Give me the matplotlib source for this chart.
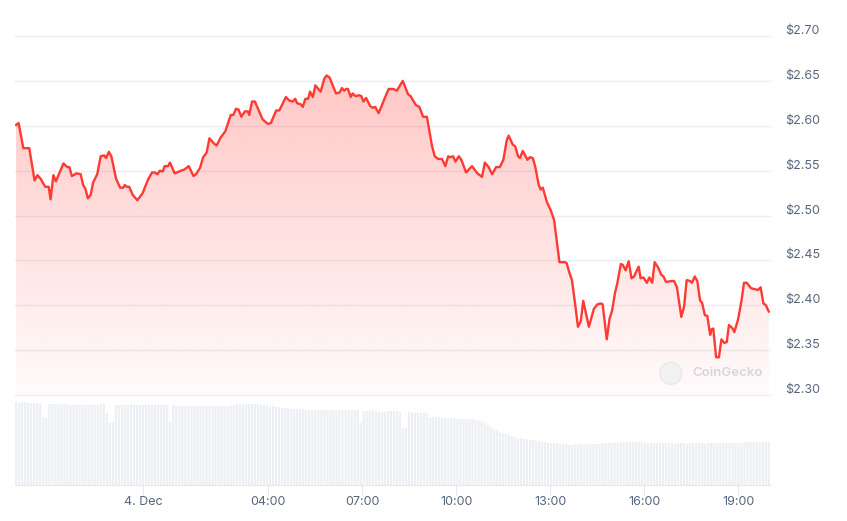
import numpy as np
import matplotlib.pyplot as plt
from matplotlib import transforms
from matplotlib.patches import Circle

# price series: hours relative to 4 Dec 00:00, price in USD
hours = [
    -4.05, -3.97, -3.82, -3.63, -3.46, -3.37, -3.27, -3.12, -3.01, -2.95,
    -2.86, -2.78, -2.54, -2.42, -2.35, -2.27, -2.12, -1.99, -1.91, -1.84,
    -1.76, -1.67, -1.59, -1.46, -1.35, -1.24, -1.18, -1.09, -1.01, -0.86,
    -0.73, -0.63, -0.58, -0.52, -0.44, -0.33, -0.18, -0.01, 0.16, 0.29,
    0.37, 0.46, 0.54, 0.63, 0.69, 0.80, 0.86, 1.01, 1.22, 1.31,
    1.46, 1.61, 1.69, 1.82, 1.92, 2.03, 2.12, 2.27, 2.35, 2.48,
    2.63, 2.80, 2.88, 2.97, 3.05, 3.14, 3.25, 3.35, 3.39, 3.48,
    3.57, 3.82, 3.99, 4.08, 4.25, 4.35, 4.56, 4.67, 4.78, 4.86,
    4.92, 5.03, 5.10, 5.18, 5.27, 5.33, 5.42, 5.50, 5.67, 5.78,
    5.86, 5.95, 6.16, 6.27, 6.35, 6.42, 6.48, 6.54, 6.63, 6.69,
    6.78, 6.90, 6.97, 7.03, 7.12, 7.25, 7.33, 7.41, 7.52, 7.73,
    7.84, 7.99, 8.10, 8.29, 8.46, 8.54, 8.71, 8.82, 8.94, 9.06,
    9.22, 9.31, 9.42, 9.54, 9.65, 9.74, 9.80, 9.90, 9.97, 10.08,
    10.16, 10.31, 10.50, 10.67, 10.82, 10.91, 11.03, 11.14, 11.27, 11.39,
    11.50, 11.61, 11.67, 11.80, 11.88, 11.97, 12.03, 12.12, 12.27, 12.35,
    12.44, 12.52, 12.63, 12.69, 12.76, 12.89, 13.01, 13.12, 13.20, 13.29,
    13.46, 13.52, 13.61, 13.69, 13.80, 13.88, 13.97, 14.05, 14.23, 14.39,
    14.50, 14.61, 14.67, 14.80, 14.89, 14.97, 15.06, 15.14, 15.25, 15.31,
    15.40, 15.50, 15.59, 15.67, 15.82, 15.88, 15.97, 16.08, 16.16, 16.25,
    16.33, 16.44, 16.54, 16.61, 16.69, 16.88, 16.95, 17.04, 17.18, 17.27,
    17.35, 17.46, 17.52, 17.61, 17.69, 17.78, 17.84, 17.93, 18.01, 18.10,
    18.14, 18.20, 18.29, 18.38, 18.46, 18.55, 18.63, 18.70, 18.82, 18.87,
    18.99, 19.10, 19.18, 19.27, 19.40, 19.52, 19.63, 19.71, 19.80, 19.88, 19.97,
]
price = [
    2.601, 2.603, 2.575, 2.575, 2.539, 2.545, 2.541, 2.532, 2.532, 2.518,
    2.545, 2.538, 2.558, 2.554, 2.554, 2.544, 2.547, 2.546, 2.534, 2.530,
    2.519, 2.523, 2.537, 2.546, 2.566, 2.567, 2.564, 2.571, 2.566, 2.541,
    2.531, 2.531, 2.534, 2.532, 2.532, 2.523, 2.517, 2.525, 2.540, 2.548,
    2.548, 2.546, 2.550, 2.549, 2.555, 2.555, 2.559, 2.547, 2.550, 2.551,
    2.555, 2.544, 2.546, 2.553, 2.565, 2.570, 2.586, 2.580, 2.578, 2.587,
    2.594, 2.612, 2.612, 2.619, 2.618, 2.610, 2.616, 2.616, 2.612, 2.627,
    2.627, 2.607, 2.602, 2.603, 2.617, 2.617, 2.632, 2.628, 2.627, 2.630,
    2.625, 2.624, 2.621, 2.630, 2.630, 2.638, 2.632, 2.645, 2.638, 2.652,
    2.656, 2.654, 2.636, 2.637, 2.642, 2.639, 2.641, 2.641, 2.632, 2.636,
    2.633, 2.634, 2.633, 2.627, 2.631, 2.622, 2.620, 2.621, 2.614, 2.632,
    2.641, 2.641, 2.639, 2.650, 2.635, 2.633, 2.623, 2.621, 2.610, 2.610,
    2.578, 2.566, 2.563, 2.563, 2.555, 2.566, 2.565, 2.566, 2.560, 2.566,
    2.562, 2.548, 2.555, 2.547, 2.543, 2.559, 2.554, 2.546, 2.554, 2.554,
    2.562, 2.584, 2.589, 2.579, 2.577, 2.566, 2.564, 2.572, 2.562, 2.565,
    2.564, 2.554, 2.534, 2.529, 2.531, 2.515, 2.506, 2.495, 2.473, 2.448,
    2.448, 2.447, 2.436, 2.428, 2.399, 2.376, 2.382, 2.405, 2.376, 2.396,
    2.401, 2.402, 2.401, 2.362, 2.385, 2.394, 2.413, 2.425, 2.446, 2.445,
    2.439, 2.449, 2.430, 2.432, 2.443, 2.430, 2.431, 2.425, 2.431, 2.425,
    2.448, 2.442, 2.434, 2.432, 2.426, 2.427, 2.427, 2.420, 2.387, 2.399,
    2.428, 2.427, 2.425, 2.432, 2.427, 2.405, 2.403, 2.389, 2.388, 2.367,
    2.373, 2.374, 2.342, 2.342, 2.362, 2.358, 2.359, 2.378, 2.374, 2.370,
    2.384, 2.405, 2.425, 2.425, 2.419, 2.418, 2.417, 2.420, 2.402, 2.400, 2.393,
]

# volume bars (relative units), evenly spaced over the same period
volume = [
    83, 82, 83, 83, 82, 82, 82, 82, 81, 68, 67, 81, 81, 81, 81, 81, 81, 81, 80, 80,
    80, 80, 80, 80, 80, 80, 80, 80, 81, 81, 72, 62, 63, 80, 80, 80, 80, 80, 80, 80,
    80, 80, 80, 80, 80, 80, 80, 80, 80, 80, 80, 63, 80, 80, 79, 79, 79, 79, 79, 79,
    79, 79, 79, 79, 79, 79, 79, 79, 79, 79, 79, 80, 80, 81, 81, 81, 81, 81, 81, 81,
    81, 80, 80, 80, 79, 79, 78, 78, 77, 77, 77, 76, 76, 76, 76, 76, 75, 75, 75, 75,
    75, 75, 75, 75, 75, 75, 75, 75, 75, 75, 75, 75, 75, 75, 62, 74, 74, 74, 75, 74,
    73, 73, 73, 74, 74, 74, 74, 73, 57, 57, 73, 73, 72, 72, 72, 72, 72, 68, 68, 68,
    68, 67, 67, 67, 67, 67, 66, 66, 66, 66, 66, 66, 65, 65, 64, 62, 60, 58, 56, 55,
    53, 52, 51, 50, 49, 48, 47, 47, 46, 46, 45, 45, 44, 44, 43, 43, 42, 42, 42, 42,
    41, 41, 41, 40, 40, 41, 41, 41, 40, 41, 41, 41, 41, 41, 42, 42, 42, 42, 43, 42,
    43, 43, 43, 43, 43, 43, 43, 43, 42, 42, 42, 42, 42, 42, 42, 42, 42, 42, 41, 42,
    42, 42, 41, 42, 42, 42, 42, 42, 41, 42, 42, 42, 42, 42, 42, 42, 42, 42, 42, 42,
    42, 43, 43, 43, 43, 43, 43, 43, 43, 43,
]

price_ticks = [2.30, 2.35, 2.40, 2.45, 2.50, 2.55, 2.60, 2.65, 2.70]
time_ticks = [0, 4, 7, 10, 13, 16, 19]
time_labels = ["4. Dec", "04:00", "07:00", "10:00", "13:00", "16:00", "19:00"]

plt.rcParams['font.family'] = ['Inter', 'DejaVu Sans']
W, H = 847, 521
fig = plt.figure(figsize=(W / 100, H / 100), dpi=100)
fig.patch.set_facecolor('white')

xmin, xmax = -4.085, 20.01
grey_text = '#58667e'
grid_col = '#eceef2'
red = '#ff3a33'

# price panel
ax = fig.add_axes([15 / W, (H - 395) / H, 755 / W, 359 / H])
for v in price_ticks:
    ax.axhline(v, color=grid_col, lw=1, zorder=0, clip_on=False)

grad = np.zeros((256, 1, 4))
grad[..., 0] = 1.0
grad[..., 1] = 58 / 255
grad[..., 2] = 51 / 255
grad[:, 0, 3] = np.linspace(0.02, 0.29, 256)
img = ax.imshow(grad, extent=[xmin, xmax, 2.30, 2.665], origin='lower',
                aspect='auto', zorder=1, interpolation='bilinear')
area = ax.fill_between(hours, price, 2.30, color='none', lw=0)
img.set_clip_path(area.get_paths()[0], transform=ax.transData)

ax.plot(hours, price, color=red, lw=1.7, solid_joinstyle='round', zorder=3)

ax.set_xlim(xmin, xmax)
ax.set_ylim(2.30, 2.70)
for s in ax.spines.values():
    s.set_visible(False)
ax.set_xticks([])
ax.set_yticks([])

lab_trans = transforms.offset_copy(ax.get_yaxis_transform(), fig=fig, x=15, y=5, units='dots')
for v in price_ticks:
    ax.text(1.0, v, f"${v:.2f}", transform=lab_trans, ha='left', va='center',
            fontsize=9, color=grey_text)

# volume panel
vax = fig.add_axes([15 / W, (H - 485) / H, 755 / W, 85 / H])
vx = np.linspace(hours[0], hours[-1], len(volume))
vax.bar(vx, volume, width=0.068, color='#eceff3', lw=0, snap=False)
vax.set_xlim(xmin, xmax)
vax.set_ylim(0, 85)
for name, s in vax.spines.items():
    s.set_visible(name == 'bottom')
vax.spines['bottom'].set_color('#e6e8ec')
vax.set_yticks([])
vax.set_xticks(time_ticks)
vax.set_xticklabels(time_labels)
vax.tick_params(axis='x', length=7, width=0.8, color='#e6e8ec', pad=1,
                labelsize=9, labelcolor=grey_text)

# watermark
fig.add_artist(Circle((670.7, H - 373.3), 11, transform=transforms.IdentityTransform(),
                      facecolor='#f2f2f3', edgecolor='#e8e8ea', lw=1, zorder=5))
fig.text(692 / W, 1 - 373 / H, "CoinGecko", ha='left', va='center', fontsize=9.5,
         fontweight='semibold', color='#d3d6da', zorder=5)

fig.savefig('out.png', dpi=100, facecolor='white')
